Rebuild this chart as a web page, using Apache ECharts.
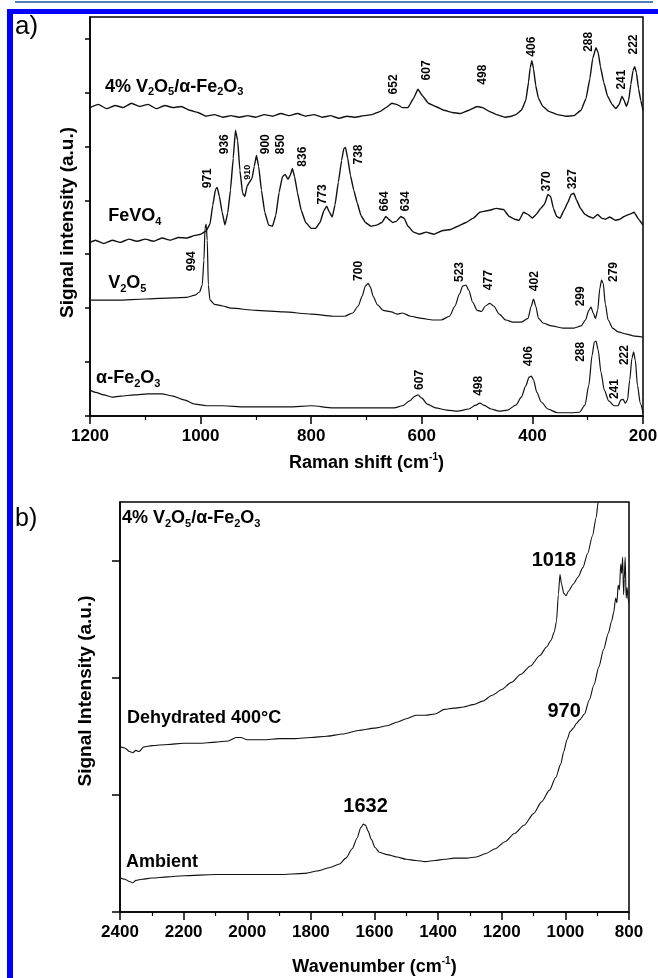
<!DOCTYPE html>
<html>
<head>
<meta charset="utf-8">
<script src="https://cdn.jsdelivr.net/npm/echarts@6/dist/echarts.min.js"></script>
<style>
html, body { margin: 0; padding: 0; background: #fff; }
#chart { width: 658px; height: 978px; }
</style>
</head>
<body>
<div id="chart"></div>
<script>
// a) Raman spectra, [Raman shift cm-1, intensity a.u.]
var ramanMixed = [
  [1200,5.72],[1185,5.78],[1170,5.70],[1155,5.76],[1140,5.72],[1125,5.80],[1110,5.74],[1095,5.78],
  [1080,5.70],[1065,5.76],[1050,5.72],[1035,5.74],[1020,5.67],[1005,5.63],[990,5.56],[975,5.59],
  [960,5.54],[945,5.57],[930,5.54],[915,5.57],[900,5.54],[885,5.59],[870,5.56],[855,5.61],
  [840,5.57],[825,5.61],[810,5.56],[795,5.59],[780,5.54],[765,5.57],[750,5.52],[735,5.56],
  [720,5.54],[705,5.57],[690,5.59],[675,5.65],[665,5.72],[654,5.80],[645,5.78],[635,5.72],
  [625,5.72],[615,5.89],[607,6.06],[598,5.93],[588,5.80],[575,5.74],[560,5.67],[545,5.63],
  [530,5.61],[515,5.67],[500,5.74],[490,5.72],[478,5.65],[465,5.59],[450,5.54],[438,5.56],
  [430,5.59],[420,5.67],[412,5.85],[407,6.19],[404,6.46],[401,6.59],[398,6.44],[394,6.13],
  [389,5.89],[381,5.74],[370,5.65],[355,5.59],[340,5.56],[325,5.57],[312,5.67],[303,5.89],
  [296,6.26],[291,6.63],[285,6.83],[281,6.74],[277,6.48],[271,6.19],[264,5.93],[256,5.78],
  [249,5.70],[243,5.78],[238,5.93],[234,5.85],[230,5.74],[226,5.85],[222,6.15],[218,6.41],
  [215,6.48],[212,6.37],[208,6.07],[204,5.85],[200,5.67]
];
var ramanFeVO4 = [
  [1200,3.22],[1190,3.26],[1175,3.20],[1160,3.26],[1145,3.22],[1130,3.28],[1115,3.24],[1100,3.28],
  [1085,3.24],[1070,3.30],[1055,3.26],[1040,3.31],[1025,3.30],[1010,3.35],[1000,3.37],[990,3.43],
  [983,3.56],[978,3.91],[973,4.20],[970,4.24],[966,4.07],[961,3.78],[956,3.54],[951,3.76],
  [946,4.19],[941,4.78],[937,5.30],[933,5.11],[929,4.56],[924,4.13],[920,4.07],[916,4.26],
  [912,4.33],[907,4.41],[903,4.63],[899,4.83],[895,4.63],[890,4.19],[884,3.78],[877,3.54],
  [870,3.52],[864,3.72],[858,4.15],[852,4.44],[847,4.48],[842,4.39],[838,4.46],[834,4.59],
  [830,4.44],[825,4.15],[818,3.81],[810,3.59],[800,3.48],[792,3.48],[784,3.59],[777,3.81],
  [772,3.89],[767,3.78],[762,3.69],[757,3.91],[751,4.33],[745,4.74],[741,4.96],[738,4.98],
  [734,4.78],[729,4.46],[723,4.19],[717,3.96],[710,3.72],[702,3.59],[692,3.52],[682,3.54],
  [672,3.59],[665,3.70],[660,3.65],[653,3.59],[646,3.61],[638,3.70],[632,3.67],[625,3.52],
  [615,3.41],[605,3.37],[592,3.41],[578,3.37],[562,3.44],[548,3.46],[535,3.52],[520,3.59],
  [507,3.67],[495,3.78],[480,3.81],[465,3.85],[452,3.83],[442,3.70],[432,3.65],[424,3.63],
  [416,3.78],[408,3.74],[400,3.67],[393,3.74],[385,3.85],[378,3.93],[372,4.11],[367,4.07],
  [362,3.85],[356,3.70],[350,3.67],[343,3.81],[336,3.96],[330,4.11],[325,4.13],[320,4.00],
  [313,3.85],[305,3.74],[298,3.70],[290,3.67],[282,3.74],[275,3.67],[268,3.65],[260,3.69],
  [250,3.63],[242,3.65],[234,3.70],[225,3.74],[216,3.78],[208,3.65],[200,3.54]
];
var ramanV2O5 = [
  [1200,2.15],[1150,2.15],[1100,2.17],[1050,2.19],[1025,2.20],[1010,2.24],[1002,2.30],[997,2.43],
  [994,2.89],[992,3.48],[990,3.56],[988,3.26],[986,2.43],[983,2.15],[975,2.07],[960,2.04],
  [945,2.00],[900,1.96],[850,1.93],[800,1.89],[760,1.85],[740,1.85],[725,1.91],[715,2.04],
  [708,2.22],[702,2.41],[697,2.46],[693,2.39],[688,2.22],[680,2.06],[670,1.96],[655,1.93],
  [645,1.89],[635,1.91],[620,1.85],[600,1.81],[580,1.78],[565,1.78],[550,1.85],[540,2.04],
  [532,2.26],[526,2.41],[520,2.43],[515,2.33],[508,2.11],[500,1.96],[492,1.94],[485,2.04],
  [477,2.09],[470,2.04],[460,1.89],[448,1.78],[435,1.74],[420,1.74],[408,1.81],[402,2.04],
  [398,2.17],[394,2.04],[389,1.81],[380,1.72],[365,1.67],[345,1.63],[325,1.63],[312,1.67],
  [304,1.78],[298,1.96],[294,2.02],[290,1.91],[286,1.81],[282,1.96],[278,2.37],[275,2.52],
  [272,2.46],[268,2.07],[263,1.78],[255,1.63],[245,1.56],[230,1.52],[215,1.48],[200,1.46]
];
var ramanFe2O3 = [
  [1200,0.48],[1190,0.44],[1175,0.39],[1160,0.35],[1145,0.37],[1120,0.39],[1095,0.41],[1070,0.41],
  [1050,0.37],[1030,0.30],[1010,0.22],[990,0.19],[960,0.19],[920,0.17],[880,0.17],[840,0.17],
  [800,0.19],[760,0.15],[720,0.15],[680,0.15],[650,0.15],[635,0.19],[622,0.28],[612,0.37],
  [607,0.39],[600,0.33],[590,0.22],[575,0.15],[555,0.11],[535,0.09],[515,0.13],[503,0.20],
  [495,0.24],[488,0.20],[475,0.13],[460,0.09],[445,0.11],[430,0.20],[420,0.35],[412,0.56],
  [406,0.72],[402,0.74],[398,0.67],[392,0.44],[384,0.26],[372,0.13],[355,0.06],[330,0.06],
  [315,0.07],[305,0.20],[298,0.57],[292,1.13],[288,1.37],[285,1.39],[281,1.22],[276,0.81],
  [270,0.48],[262,0.28],[252,0.19],[245,0.19],[240,0.30],[236,0.31],[232,0.24],[228,0.30],
  [224,0.67],[220,1.07],[217,1.19],[214,1.04],[210,0.57],[205,0.24],[200,0.06]
];
var ramanTicks = [0, 1, 2, 3, 4, 5, 6, 7];

// peak labels, [shift, height, text]
var ramanPeaks = [
  [650,6.15,'652'],[592,6.41,'607'],[489,6.33,'498'],[401,6.85,'406'],[299,6.94,'288'],[238,6.24,'241'],[216,6.89,'222'],
  [988,4.41,'971'],[957,5.04,'936'],[883,5.04,'900'],[856,5.04,'850'],[815,4.81,'836'],[779,4.11,'773'],
  [714,4.85,'738'],[667,3.98,'664'],[629,3.98,'634'],[375,4.35,'370'],[327,4.39,'327'],
  [1017,2.87,'994'],[714,2.69,'700'],[531,2.67,'523'],[479,2.52,'477'],[396,2.50,'402'],[313,2.22,'299'],[253,2.67,'279'],
  [604,0.67,'607'],[497,0.56,'498'],[406,1.11,'406'],[313,1.19,'288'],[251,0.50,'241'],[233,1.13,'222']
];
var ramanSmallPeaks = [[915,4.52,'910']];
var ramanNames = [
  [1173,6.11,'{m|4% V}{s|2}{m|O}{s|5}{m|/α-Fe}{s|2}{m|O}{s|3}'],
  [1167,3.70,'{m|FeVO}{s|4}'],
  [1167,2.46,'{m|V}{s|2}{m|O}{s|5}'],
  [1189,0.70,'{m|α-Fe}{s|2}{m|O}{s|3}']
];

// b) IR spectra, [wavenumber cm-1, intensity a.u.]
var irDehydrated = [
  [2400,1.41],[2385,1.40],[2370,1.37],[2360,1.36],[2350,1.38],[2340,1.37],[2325,1.41],[2300,1.42],
  [2250,1.43],[2200,1.44],[2150,1.44],[2100,1.45],[2060,1.46],[2035,1.49],[2020,1.49],[2000,1.47],
  [1950,1.47],[1900,1.48],[1850,1.48],[1800,1.49],[1750,1.50],[1700,1.52],[1650,1.55],[1600,1.57],
  [1560,1.59],[1530,1.62],[1500,1.65],[1470,1.68],[1440,1.68],[1410,1.69],[1380,1.73],[1350,1.74],
  [1320,1.75],[1290,1.77],[1260,1.80],[1230,1.85],[1200,1.90],[1170,1.96],[1140,2.03],[1110,2.10],
  [1080,2.19],[1060,2.26],[1045,2.32],[1035,2.39],[1028,2.48],[1022,2.71],[1017,2.88],[1012,2.80],
  [1005,2.72],[998,2.70],[990,2.74],[975,2.80],[960,2.86],[945,2.94],[930,3.06],[915,3.21],
  [903,3.37],[897,3.50],[890,3.62]
];
var irAmbient = [
  [2400,0.29],[2385,0.28],[2370,0.26],[2360,0.25],[2350,0.27],[2330,0.28],[2300,0.29],[2250,0.30],
  [2200,0.31],[2100,0.32],[2000,0.32],[1900,0.32],[1820,0.33],[1780,0.35],[1740,0.38],[1710,0.41],
  [1690,0.46],[1670,0.54],[1655,0.63],[1643,0.72],[1635,0.75],[1628,0.74],[1620,0.69],[1610,0.62],
  [1598,0.55],[1585,0.51],[1560,0.49],[1530,0.47],[1500,0.45],[1470,0.44],[1440,0.43],[1410,0.44],
  [1380,0.45],[1350,0.46],[1310,0.46],[1280,0.47],[1250,0.50],[1220,0.54],[1190,0.60],[1160,0.67],
  [1130,0.74],[1100,0.84],[1075,0.94],[1050,1.04],[1030,1.15],[1015,1.26],[1005,1.37],[995,1.47],
  [985,1.54],[975,1.57],[965,1.61],[955,1.64],[940,1.69],[925,1.81],[910,1.94],[895,2.09],
  [880,2.24],[865,2.38],[855,2.48],[848,2.56],[842,2.68],[838,2.64],[834,2.79],[830,2.75],
  [826,2.97],[823,2.89],[820,3.03],[817,2.71],[815,2.84],[812,3.03],[809,2.68],[806,2.77],
  [803,2.67],[800,2.64]
];
var irTicks = [0, 1, 2, 3];
var irPeaks = [[1036,3.00,'1018'],[1004,1.71,'970'],[1628,0.90,'1632']];
var irNames = [
  [2394,3.36,'{m|4% V}{s|2}{m|O}{s|5}{m|/α-Fe}{s|2}{m|O}{s|3}'],
  [2378,1.66,'{m|Dehydrated 400°C}'],
  [2381,0.43,'{m|Ambient}']
];

var FONT = 'Liberation Sans, Arial, sans-serif';
var INK = '#000000';

var subRich = {
  m: { fontFamily: FONT, fontSize: 18, fontWeight: 'bold', color: INK, lineHeight: 22 },
  s: { fontFamily: FONT, fontSize: 11, fontWeight: 'bold', color: INK, lineHeight: 12, verticalAlign: 'bottom' }
};
var supRich = {
  t: { fontFamily: FONT, fontSize: 18, fontWeight: 'bold', color: INK, lineHeight: 22 },
  u: { fontFamily: FONT, fontSize: 10, fontWeight: 'bold', color: INK, lineHeight: 12, verticalAlign: 'top' }
};

function curve(data, idx, width, smooth) {
  return {
    type: 'line', data: data, xAxisIndex: idx, yAxisIndex: idx,
    showSymbol: false, smooth: smooth, smoothMonotone: 'x', silent: true,
    lineStyle: { color: '#111', width: width }
  };
}

function textMarks(data, idx, label) {
  return {
    type: 'scatter', data: data, xAxisIndex: idx, yAxisIndex: idx,
    symbolSize: 0, silent: true, z: 5,
    itemStyle: { color: INK, opacity: 1 },
    label: Object.assign({
      show: true, position: [0, 0], color: INK, opacity: 1, textBorderWidth: 0,
      fontFamily: FONT, fontWeight: 'bold',
      formatter: function (p) { return p.value[2]; }
    }, label)
  };
}

function xAxis(idx, min, max, name, gap) {
  return {
    type: 'value', gridIndex: idx, min: min, max: max, interval: 200, inverse: true,
    name: name, nameLocation: 'middle', nameGap: gap,
    nameTextStyle: { rich: supRich },
    axisLine: { lineStyle: { color: INK, width: 1.5 } },
    axisTick: { inside: false, length: 8, lineStyle: { color: INK, width: 1.5 } },
    minorTick: { show: true, splitNumber: 2, length: 4, lineStyle: { color: INK, width: 1.2 } },
    axisLabel: {
      color: INK, fontFamily: FONT, fontSize: 17, fontWeight: 'bold', margin: 12,
      formatter: function (v) { return String(v); }
    },
    splitLine: { show: false }
  };
}

function yAxis(idx, max, ticks, name, gap, pad, size) {
  return {
    type: 'value', gridIndex: idx, min: 0, max: max,
    name: name, nameLocation: 'middle', nameGap: gap,
    nameTextStyle: { color: INK, fontFamily: FONT, fontSize: size, fontWeight: 'bold', padding: pad },
    axisLine: { lineStyle: { color: INK, width: 1.5 } },
    axisTick: { inside: false, length: idx === 0 ? 5 : 8, customValues: ticks, lineStyle: { color: INK, width: 1.5 } },
    axisLabel: { show: false },
    splitLine: { show: false }
  };
}

var chart = echarts.init(document.getElementById('chart'), null, { renderer: 'canvas' });

var option = {
  backgroundColor: '#ffffff',
  animation: false,
  grid: [
    { left: 90, top: 17, right: 15, height: 399, show: true, borderColor: INK, borderWidth: 1.5, outerBoundsMode: 'none' },
    { left: 120, top: 502, right: 29, height: 410, show: true, borderColor: INK, borderWidth: 1.5, outerBoundsMode: 'none' }
  ],
  xAxis: [
    xAxis(0, 200, 1200, '{t|Raman shift (cm}{u|-1}{t|)}', 36),
    xAxis(1, 800, 2400, '{t|Wavenumber (cm}{u|-1}{t|)}', 44)
  ],
  yAxis: [
    yAxis(0, 7.4, ramanTicks, 'Signal intensity (a.u.)', 13, [0, 12, 0, 0], 19),
    yAxis(1, 3.5, irTicks, 'Signal Intensity (a.u.)', 25, [0, 0, 0, 32], 19)
  ],
  graphic: [
    { type: 'rect', shape: { x: 15, y: 1, width: 638, height: 2 }, style: { fill: '#4f81bd' } },
    { type: 'rect', shape: { x: 7, y: 9, width: 651, height: 5 }, style: { fill: '#0000ff' } },
    { type: 'rect', shape: { x: 7, y: 9, width: 6, height: 969 }, style: { fill: '#0000ff' } },
    { type: 'text', left: 15, top: 14, style: { text: 'a)', fontFamily: FONT, fontSize: 26, fill: INK } },
    { type: 'text', left: 15, top: 507, style: { text: 'b)', fontFamily: FONT, fontSize: 25, fill: INK } }
  ],
  series: [
    curve(ramanMixed, 0, 1.4, 0.1),
    curve(ramanFeVO4, 0, 1.4, 0.1),
    curve(ramanV2O5, 0, 1.2, 0.25),
    curve(ramanFe2O3, 0, 1.2, 0.25),
    textMarks(ramanPeaks, 0, { rotate: 90, fontSize: 12, align: 'center', verticalAlign: 'middle' }),
    textMarks(ramanSmallPeaks, 0, { rotate: 90, fontSize: 9, align: 'center', verticalAlign: 'middle' }),
    textMarks(ramanNames, 0, { align: 'left', verticalAlign: 'middle', rich: subRich }),
    curve(irDehydrated, 1, 1.1, 0.25),
    curve(irAmbient, 1, 1.1, 0.25),
    textMarks(irPeaks, 1, { fontSize: 20, align: 'center', verticalAlign: 'middle' }),
    textMarks(irNames, 1, { align: 'left', verticalAlign: 'middle', rich: subRich })
  ]
};

chart.setOption(option);
</script>
</body>
</html>
